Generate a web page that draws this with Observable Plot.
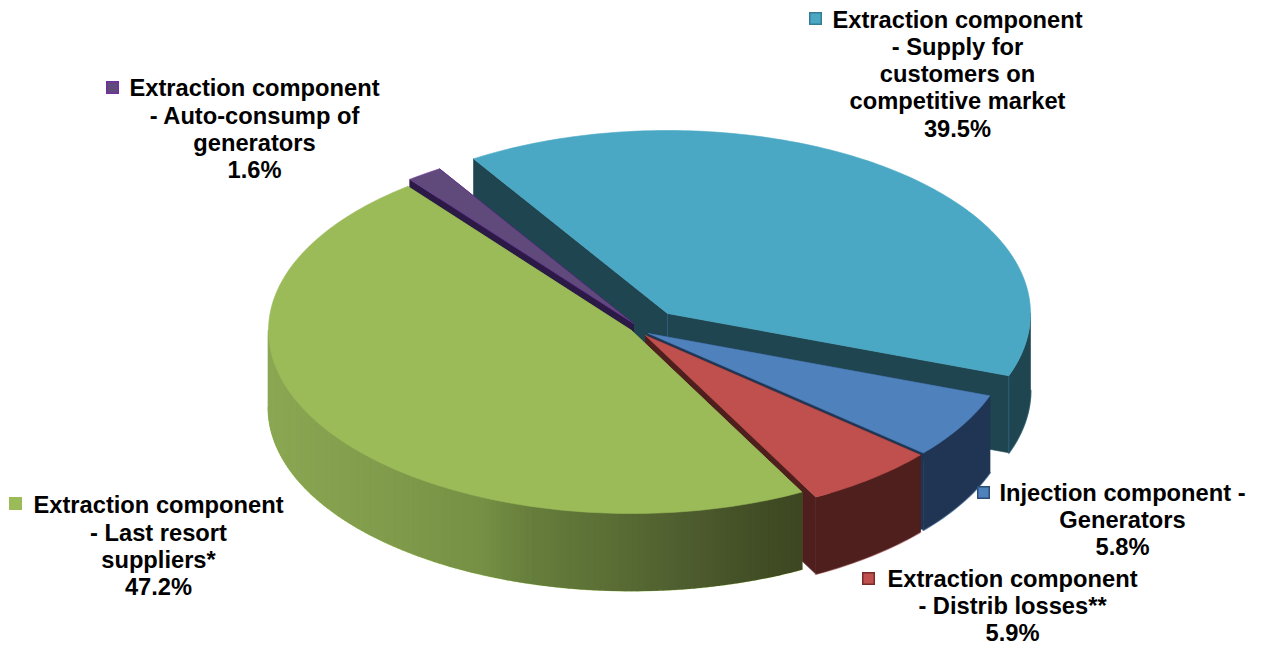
<!DOCTYPE html>
<html>
<head>
<meta charset="utf-8">
<style>html,body{margin:0;padding:0;background:#fff}svg{display:block}</style>
<script src="https://cdn.jsdelivr.net/npm/d3@7"></script>
<script src="https://cdn.jsdelivr.net/npm/@observablehq/plot@0.6"></script>
</head>
<body>
<div id="chart"></div>
<script>
// Data, in the clockwise order of the pie starting at the competitive-market slice
const names = [
  "Extraction component\n- Supply for\ncustomers on\ncompetitive market",
  "Injection component -\nGenerators",
  "Extraction component\n- Distrib losses**",
  "Extraction component\n- Last resort\nsuppliers*",
  "Extraction component\n- Auto-consump of\ngenerators"
];
const shares = [39.5, 5.8, 5.9, 47.2, 1.6];

// Styles
const topColors  = ["#4aa8c4", "#4f81bd", "#c0504d", "#9bbb59", "#604a7b"];
const topStrokes = ["#4aa8c4", "#4f81bd", "#c0504d", "#9bbb59", "#7030a0"];
const sideColors = ["#1f4550", "#1f3553", "#4f1f1e", "#8aa64e", "#2b1a45"];
const fringeColors = ["#4d7d8a", "#6f8fb5", "#c99a98", "#b4d87a", "#2b1a45"];
const edgeColor = "#2f5c78";
const swatchStrokes = ["#357d92", "#2c4d75", "#772c2a", "#9bbb59", "#7030a0"];

// Layout
const startAngle = -122.3;           // degrees on the ellipse
const rx = 363, ry = 183, depth = 77;
const centerX = [667, 648, 645, 631, 633];
const centerY = [313, 333, 335, 330, 323];
const labelX  = [957, 1122, 1012, 158, 254];
const labelY  = [73, 519, 605, 545, 128];
const swatchX = [815, 983, 868, 15, 112];
const swatchY = [18, 492, 578, 503, 87];
const greenWallX = [268, 400, 480, 530, 600, 680, 750, 800];
const greenWallC = ["#8ba753", "#7f9a4a", "#769044", "#667e3c", "#5c7036", "#4f5e2f", "#434f26", "#3d4722"];

const rad = d => d * Math.PI / 180;
const wallShade = d3.scaleLinear().domain(greenWallX).range(greenWallC);

// Turn shares into wedge polygons on the tilted ellipse
const polys = [];
let id = 0;
function add(points, fill, stroke = fill, width = 0.6) {
  const k = id++;
  points.forEach(p => polys.push({k, x: p[0], y: p[1], fill, stroke, width}));
}
const rim = (i, a) => [centerX[i] + rx * Math.cos(rad(a)), centerY[i] + ry * Math.sin(rad(a))];

let a0 = startAngle;
const spans = shares.map(s => {
  const r = [a0, a0 + s * 3.6];
  a0 = r[1];
  return r;
});
const arcPts = (i, a, b) => {
  const n = Math.max(2, Math.ceil(Math.abs(b - a)));
  return d3.range(n + 1).map(j => rim(i, a + (b - a) * j / n));
};
const down = p => [p[0], p[1] + depth];

// draw order: back slices first, the big front slice last
[0, 4, 1, 2, 3].forEach(i => {
  const [a, b] = spans[i];
  const apex = [centerX[i], centerY[i]];
  // cut faces
  [a, b].forEach(t => {
    const p = rim(i, t);
    add([apex, p, down(p), down(apex), apex], sideColors[i]);
  });
  // outer wall: only the part facing the viewer (0..180 degrees)
  const w0 = Math.max(a, 0), w1 = Math.min(b, 180);
  if (w1 > w0) {
    const arc = arcPts(i, w0, w1);
    add(arc.map(down), "none", fringeColors[i], 2);
    if (i === 3) {
      const n = Math.ceil(w1 - w0);
      // right-to-left strips, each wide enough to hide the seam with its neighbour
      d3.range(n).forEach(j => {
        const p = rim(i, w0 + (w1 - w0) * j / n);
        const q = rim(i, w0 + (w1 - w0) * (j + 1) / n);
        add([p, q, down(q), down(p), p], wallShade((p[0] + q[0]) / 2), wallShade((p[0] + q[0]) / 2), 1.4);
      });
    } else {
      add([...arc, ...arc.map(down).reverse(), arc[0]], sideColors[i]);
    }
  }
  // faint vertical edges of the big teal slice
  if (i === 0) {
    const p = rim(i, b);
    add([p, down(p)], "none", edgeColor, 1);
    add([apex, down(apex)], "none", edgeColor, 1);
  }
  // top face
  add([apex, ...arcPts(i, a, b), apex], topColors[i], topStrokes[i]);
});

const labels = names.map((n, i) => ({
  text: n + "\n" + shares[i].toFixed(1) + "%",
  x: labelX[i], y: labelY[i]
}));
const swatches = names.map((n, i) => ({x: swatchX[i], y: swatchY[i], fill: topColors[i], stroke: swatchStrokes[i]}));

const chart = Plot.plot({
  width: 1262, height: 646,
  margin: 0,
  x: {domain: [0, 1262], axis: null},
  y: {domain: [646, 0], axis: null},
  color: {type: "identity"},
  style: {background: "#fff", fontFamily: "'Liberation Sans', Arial, sans-serif"},
  marks: [
    Plot.line(polys, {x: "x", y: "y", z: "k", fill: "fill", stroke: "stroke", strokeWidth: "width", curve: "linear"}),
    Plot.dot(swatches, {x: "x", y: "y", symbol: "square", r: 6.5, fill: "fill", stroke: "stroke", strokeWidth: 1.5}),
    Plot.text(labels, {x: "x", y: "y", text: "text", fontSize: 23.7, fontWeight: "bold", fill: "#000", textAnchor: "middle", lineAnchor: "middle", lineHeight: 1.15})
  ]
});
document.getElementById("chart").append(chart);
</script>
</body>
</html>
